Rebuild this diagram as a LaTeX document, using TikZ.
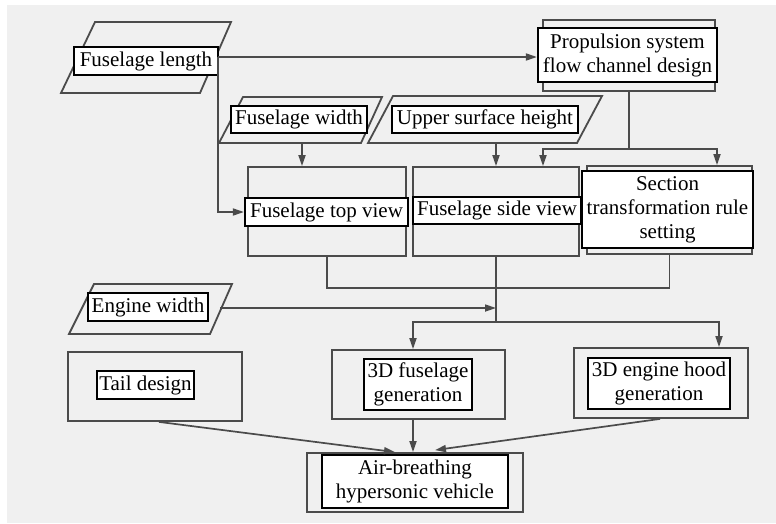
\documentclass[tikz,border=0pt]{standalone}
\usepackage{fontspec}
\setmainfont{Liberation Serif}
\usepackage{tikz}
\usetikzlibrary{arrows.meta, positioning, calc}

\definecolor{fundo}{RGB}{240,240,240}
\definecolor{traco}{RGB}{75,75,75}

\begin{document}
\begin{tikzpicture}[x=1pt, y=-1pt,
        moldura/.style={draw=traco, line width=1.8pt, inner sep=0pt},
        etiqueta/.style={draw=black, line width=2.2pt, fill=white, inner sep=0pt, align=center, font=\fontsize{21}{24}\selectfont},
        linha/.style={draw=traco, line width=1.7pt},
        seta/.style={linha, -{Triangle[length=11pt, width=7pt]}}
    ]
    \useasboundingbox (0,0) rectangle (776,523);
    \fill[fundo] (7,5) rectangle (776,523);

    % Entradas (paralelogramos)
    \draw[moldura] (95,22) -- (231,22) -- (200,93) -- (61,93) -- cycle;
    \draw[moldura] (243,97) -- (382,97) -- (361,143) -- (219,143) -- cycle;
    \draw[moldura] (393,96) -- (602,96) -- (577,143) -- (368,143) -- cycle;
    \draw[moldura] (94,284) -- (232,284) -- (210,334) -- (69,334) -- cycle;

    % Caixas de processo
    \node[moldura, minimum width=172, minimum height=71] (prop) at (629,55.5) {};
    \node[moldura, minimum width=158, minimum height=89] (topo) at (327,211.5) {};
    \node[moldura, minimum width=166, minimum height=89] (lateral) at (496,211.5) {};
    \node[moldura, minimum width=165, minimum height=88] (secao) at (669.5,210) {};
    \node[moldura, minimum width=174, minimum height=69] (cauda) at (155,386.5) {};
    \node[moldura, minimum width=173, minimum height=69] (fus3d) at (418.5,384.5) {};
    \node[moldura, minimum width=174, minimum height=70] (capo3d) at (661,383) {};
    \node[moldura, minimum width=216, minimum height=59] (veiculo) at (415,482.5) {};

    % Pontos de saida das entradas
    \coordinate (jl) at (218,57);
    \coordinate (lb) at (302,143);
    \coordinate (sb) at (496,143);
    \coordinate (mw) at (220,308);

    % Rotulos
    \node[etiqueta, minimum width=144, minimum height=28] (compT) at (146,61) {Fuselage length};
    \node[etiqueta, minimum width=136, minimum height=27] (largT) at (299,119.5) {Fuselage width};
    \node[etiqueta, minimum width=186, minimum height=27] (supT) at (485,119.5) {Upper surface height};
    \node[etiqueta, minimum width=179, minimum height=54] (propT) at (627.5,55) {Propulsion system\\flow channel design};
    \node[etiqueta, minimum width=163, minimum height=28] (topoT) at (326.5,212) {Fuselage top view};
    \node[etiqueta, minimum width=168, minimum height=27] (lateralT) at (497,210.5) {Fuselage side view};
    \node[etiqueta, minimum width=171, minimum height=77] (secaoT) at (667.5,209.5) {Section\\transformation rule\\setting};
    \node[etiqueta, minimum width=120, minimum height=28] (motorT) at (148,307) {Engine width};
    \node[etiqueta, minimum width=97, minimum height=28] (caudaT) at (145.5,385) {Tail design};
    \node[etiqueta, minimum width=108, minimum height=51] (fus3dT) at (418,384.5) {3D fuselage\\generation};
    \node[etiqueta, minimum width=142, minimum height=51] (capo3dT) at (659,383.5) {3D engine hood\\generation};
    \node[etiqueta, minimum width=186, minimum height=53] (veiculoT) at (415,481.5) {Air-breathing\\hypersonic vehicle};

    % Ligacoes
    \draw[seta] (jl) -- (jl -| propT.west);
    \draw[seta] (jl) |- (topoT.west);
    \draw[linha] (prop.south) -- ++(0,57) coordinate (rp);
    \draw[seta] (rp) -| ([xshift=47pt]lateral.north);
    \draw[seta] (rp) -| ([xshift=47.5pt]secao.north);
    \draw[seta] (lb) -- (lb |- topo.north);
    \draw[seta] (sb) -- (sb |- lateral.north);
    \draw[linha] (topo.south) -- ++(0,31) -| (secao.south);
    \draw[linha] (lateral.south) -- ++(0,65) coordinate (rl);
    \draw[seta] (rl) -| ([xshift=-5.5pt]fus3d.north);
    \draw[seta] (rl) -| ([xshift=58pt]capo3d.north);
    \draw[seta] (mw) -- (mw -| lateral.south);
    \draw[seta] ([xshift=4pt]cauda.south) -- ([xshift=-20pt]veiculo.north);
    \draw[seta] ([xshift=-5.5pt]fus3d.south) -- ([xshift=-2pt]veiculo.north);
    \draw[seta] ([xshift=-1pt]capo3d.south) -- ([xshift=20pt,yshift=2pt]veiculo.north);
\end{tikzpicture}
\end{document}
